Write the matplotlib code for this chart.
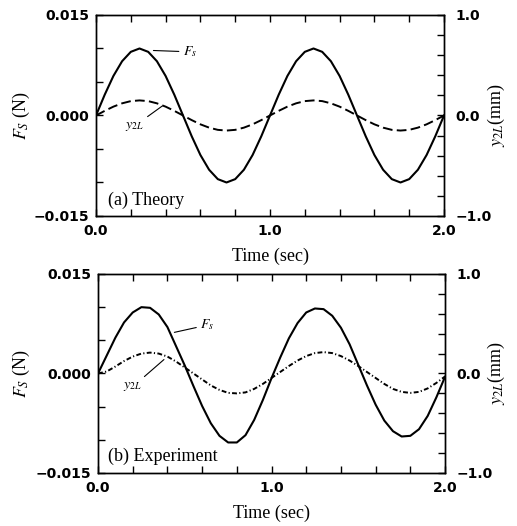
import matplotlib
matplotlib.use("Agg")
import matplotlib.pyplot as plt

plt.rcParams["font.family"] = ["Liberation Serif", "DejaVu Serif"]
plt.rcParams["mathtext.fontset"] = "stix"

# ====== data ======
time_s = [0.00, 0.05, 0.10, 0.15, 0.20, 0.25, 0.30, 0.35, 0.40, 0.45,
          0.50, 0.55, 0.60, 0.65, 0.70, 0.75, 0.80, 0.85, 0.90, 0.95,
          1.00, 1.05, 1.10, 1.15, 1.20, 1.25, 1.30, 1.35, 1.40, 1.45,
          1.50, 1.55, 1.60, 1.65, 1.70, 1.75, 1.80, 1.85, 1.90, 1.95, 2.00]

# (a) theory
fs_theory = [0.0000, 0.0031, 0.0059, 0.0081, 0.0095, 0.0100, 0.0095, 0.0081, 0.0059, 0.0031,
             0.0000, -0.0031, -0.0059, -0.0081, -0.0095, -0.0100, -0.0095, -0.0081, -0.0059, -0.0031,
             0.0000, 0.0031, 0.0059, 0.0081, 0.0095, 0.0100, 0.0095, 0.0081, 0.0059, 0.0031,
             0.0000, -0.0031, -0.0059, -0.0081, -0.0095, -0.0100, -0.0095, -0.0081, -0.0059, -0.0031, 0.0000]
y2l_theory = [0.000, 0.046, 0.088, 0.121, 0.143, 0.150, 0.143, 0.121, 0.088, 0.046,
              0.000, -0.046, -0.088, -0.121, -0.143, -0.150, -0.143, -0.121, -0.088, -0.046,
              0.000, 0.046, 0.088, 0.121, 0.143, 0.150, 0.143, 0.121, 0.088, 0.046,
              0.000, -0.046, -0.088, -0.121, -0.143, -0.150, -0.143, -0.121, -0.088, -0.046, 0.000]

# (b) experiment
fs_exp = [0.0000, 0.0027, 0.0054, 0.0077, 0.0092, 0.0100, 0.0099, 0.0089, 0.0070, 0.0041,
          0.0012, -0.0019, -0.0049, -0.0075, -0.0094, -0.0104, -0.0104, -0.0093, -0.0070, -0.0040,
          -0.0007, 0.0024, 0.0053, 0.0076, 0.0092, 0.0098, 0.0097, 0.0087, 0.0069, 0.0044,
          0.0013, -0.0018, -0.0047, -0.0071, -0.0087, -0.0095, -0.0094, -0.0084, -0.0064, -0.0036, -0.0005]
y2l_exp = [0.000, 0.020, 0.070, 0.125, 0.170, 0.200, 0.210, 0.200, 0.170, 0.120,
           0.060, 0.000, -0.060, -0.120, -0.165, -0.195, -0.200, -0.190, -0.155, -0.105,
           -0.045, 0.015, 0.075, 0.130, 0.175, 0.205, 0.215, 0.205, 0.175, 0.130,
           0.075, 0.015, -0.045, -0.105, -0.155, -0.185, -0.195, -0.185, -0.150, -0.095, -0.030]

fs_ticks = [0.015, 0.010, 0.005, 0.0, -0.005, -0.010, -0.015]
fs_ticklabels = ["0.015", "", "", "0.000", "", "", "\u22120.015"]
y2l_ticks = [1.0, 0.8, 0.6, 0.4, 0.2, 0.0, -0.2, -0.4, -0.6, -0.8, -1.0]
y2l_ticklabels = ["1.0", "", "", "", "", "0.0", "", "", "", "", "\u22121.0"]
t_ticks = [0.0, 0.2, 0.4, 0.6, 0.8, 1.0, 1.2, 1.4, 1.6, 1.8, 2.0]
t_ticklabels = ["0.0", "", "", "", "", "1.0", "", "", "", "", "2.0"]

tick_font = dict(family="DejaVu Sans", weight="bold", size=10)


def draw_panel(rect, fs, y2l, y2l_style, panel_text, fs_lab, y2l_lab, lab_x):
    ax = fig.add_axes(rect)
    ax2 = ax.twinx()

    ax.plot(time_s, fs, color="black", lw=1.5)
    ax2.plot(time_s, y2l, color="black", lw=1.4, linestyle=y2l_style)

    ax.set_xlim(0, 2.0)
    ax.set_ylim(-0.015, 0.015)
    ax2.set_ylim(-1.0, 1.0)

    ax.set_xticks(t_ticks)
    ax.set_xticklabels(t_ticklabels, fontdict=tick_font)
    ax.set_yticks(fs_ticks)
    ax.set_yticklabels(fs_ticklabels, fontdict=tick_font)
    ax2.set_yticks(y2l_ticks)
    ax2.set_yticklabels(y2l_ticklabels, fontdict=tick_font)

    ax.tick_params(axis="x", direction="in", top=True, length=5, width=1, pad=6)
    ax.tick_params(axis="y", direction="in", length=5, width=1, pad=5)
    ax2.tick_params(axis="y", direction="in", length=5, width=1, pad=8)
    for a in (ax, ax2):
        for sp in a.spines.values():
            sp.set_linewidth(1.0)

    ax.set_xlabel("Time (sec)", fontsize=13, labelpad=7)
    ax.set_ylabel(r"$F_S$ (N)", fontsize=13)
    ax.yaxis.set_label_coords(lab_x[0], 0.5)
    ax2.set_ylabel(r"$y_{2L}$(mm)", fontsize=13)
    ax2.yaxis.set_label_coords(lab_x[1], 0.5)

    ax.text(panel_text[1], panel_text[2], panel_text[0], fontsize=13,
            ha="left", va="center")

    arrow = dict(arrowstyle="-", lw=0.8, color="black", shrinkA=1, shrinkB=0)
    ax.annotate(r"$F_s$", xy=fs_lab[0], xytext=fs_lab[1], fontsize=10,
                ha="left", va="center", arrowprops=arrow)
    ax.annotate(r"$y_{2L}$", xy=y2l_lab[0], xytext=y2l_lab[1], fontsize=10,
                ha="center", va="center", arrowprops=arrow)
    return ax


fig = plt.figure(figsize=(5.17, 5.26), dpi=100)

draw_panel([0.1857, 0.5894, 0.6731, 0.3821], fs_theory, y2l_theory, (0, (5, 2.2)),
           ("(a) Theory", 0.07, -0.0126),
           ((0.33, 0.0097), (0.50, 0.0095)),
           ((0.38, 0.0014), (0.22, -0.0016)),
           (-0.185, 1.12))
draw_panel([0.1896, 0.1008, 0.6712, 0.3783], fs_exp, y2l_exp, (0, (2.5, 1.2, 0.6, 1.2)),
           ("(b) Experiment", 0.06, -0.0125),
           ((0.44, 0.0062), (0.59, 0.0073)),
           ((0.38, 0.0021), (0.20, -0.0020)),
           (-0.19, 1.118))

fig.savefig("out.png", dpi=100)
